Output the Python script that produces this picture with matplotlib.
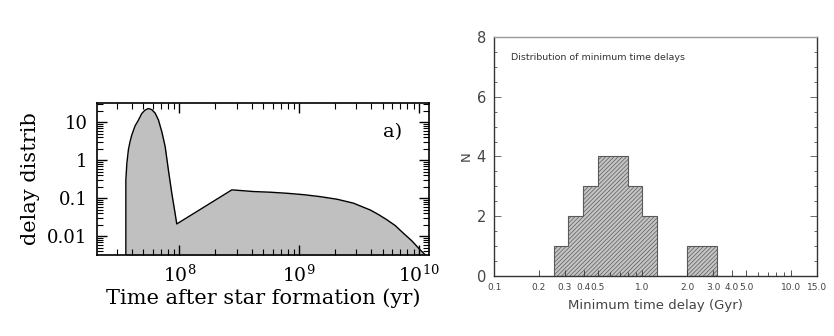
import matplotlib
matplotlib.use("Agg")
import matplotlib.pyplot as plt
from matplotlib.ticker import LogLocator, FixedLocator, NullFormatter, FixedFormatter, MultipleLocator
import numpy as np

plt.rcParams["hatch.linewidth"] = 0.5

# ---- Panel a: delay distribution (log-log) ----
delay_t = [3.57e7, 3.57e7, 3.64e7, 3.75e7, 3.87e7, 4.0e7, 4.26e7, 4.54e7, 4.85e7, 5.17e7, 5.51e7,
           5.88e7, 6.27e7, 6.68e7, 7.13e7, 7.6e7, 8.09e7, 8.65e7, 9.2e7, 9.5e7,
           2.74e8, 4.15e8, 5.73e8, 7.9e8, 1.09e9, 1.5e9, 2.07e9, 2.84e9, 3.34e9, 3.92e9,
           4.6e9, 5.4e9, 6.34e9, 7.4e9, 8.73e9, 1.02e10, 1.13e10, 1.21e10]
delay_val = [0.001, 0.3, 0.83, 1.9, 3.1, 4.6, 8.0, 11.3, 17.0, 21.0, 23.0,
             21.5, 17.4, 11.5, 5.6, 2.3, 0.55, 0.13, 0.04, 0.021,
             0.166, 0.15, 0.144, 0.135, 0.124, 0.11, 0.094, 0.074, 0.060, 0.049,
             0.037, 0.027, 0.019, 0.012, 0.0075, 0.0044, 0.0032, 0.0027]

# ---- Panel b: histogram of minimum time delays ----
bin_edges = [0.251, 0.316, 0.398, 0.501, 0.631, 0.794, 1.0, 1.259, 1.585, 1.995, 2.512, 3.162]
counts = [1, 2, 3, 4, 4, 3, 2, 0, 0, 1, 1]
xtick_vals = [0.1, 0.2, 0.3, 0.4, 0.5, 1.0, 2.0, 3.0, 4.0, 5.0, 10.0, 15.0]
xtick_labels = ["0.1", "0.2", "0.3", "0.4", "0.5", "1.0", "2.0", "3.0", "4.0", "5.0", "10.0", "15.0"]
xminor_vals = [0.6, 0.7, 0.8, 0.9, 6.0, 7.0, 8.0, 9.0]

fig = plt.figure(figsize=(8.34, 3.36), dpi=100)

# Left panel
ax1 = fig.add_axes([0.1163, 0.2411, 0.398, 0.4524])
ax1.fill_between(delay_t, delay_val, 1e-3, color="#c0c0c0", linewidth=0)
ax1.plot(delay_t, delay_val, color="black", lw=1.0)
ax1.set_xscale("log")
ax1.set_yscale("log")
ax1.set_xlim(2.05e7, 1.21e10)
ax1.set_ylim(3.2e-3, 32.2)
serif = "DejaVu Serif"
ax1.set_yticks([0.01, 0.1, 1, 10])
ax1.set_yticklabels(["0.01", "0.1", "1", "10"], family=serif, fontsize=13)
ax1.set_xticks([1e8, 1e9, 1e10])
ax1.set_xticklabels([r"$\mathregular{10^{8}}$", r"$\mathregular{10^{9}}$", r"$\mathregular{10^{10}}$"],
                    family=serif, fontsize=13.5)
ax1.xaxis.set_minor_locator(LogLocator(base=10, subs=np.arange(2, 10)))
ax1.yaxis.set_minor_locator(LogLocator(base=10, subs=np.arange(2, 10), numticks=20))
ax1.xaxis.set_minor_formatter(NullFormatter())
ax1.yaxis.set_minor_formatter(NullFormatter())
ax1.tick_params(which="both", direction="in", top=True, right=True, color="black")
ax1.tick_params(which="major", length=7, width=1.0, pad=7)
ax1.tick_params(which="minor", length=4, width=0.8)
for s in ax1.spines.values():
    s.set_linewidth(1.2)
ax1.set_xlabel("Time after star formation (yr)", family=serif, fontsize=15, labelpad=2)
ax1.set_ylabel("delay distrib", family=serif, fontsize=15, labelpad=5)
ax1.text(0.889, 0.811, "a)", transform=ax1.transAxes, family=serif, fontsize=14,
         ha="center", va="center")

# Right panel
gray = "#444444"
ax2 = fig.add_axes([0.5927, 0.1795, 0.3866, 0.7095])
ax2.stairs(counts, bin_edges, fill=True, facecolor="#c4c4c4", edgecolor="#5a5a5a",
           hatch="////////", linewidth=0.8)
ax2.set_xscale("log")
ax2.set_xlim(0.1, 15.0)
ax2.set_ylim(0, 8)
ax2.xaxis.set_major_locator(FixedLocator(xtick_vals))
ax2.xaxis.set_major_formatter(FixedFormatter(xtick_labels))
ax2.xaxis.set_minor_locator(FixedLocator(xminor_vals))
ax2.xaxis.set_minor_formatter(NullFormatter())
ax2.yaxis.set_major_locator(MultipleLocator(2))
ax2.yaxis.set_minor_locator(MultipleLocator(0.5))
ax2.tick_params(axis="x", which="both", direction="in", top=False, labelsize=6.5,
                labelcolor=gray, color="#333333", pad=5)
ax2.tick_params(axis="x", which="major", length=4, width=0.6)
ax2.tick_params(axis="x", which="minor", length=3, width=0.6)
ax2.tick_params(axis="y", which="both", direction="in", right=True, labelsize=10.5,
                labelcolor=gray, color="#555555", pad=6)
ax2.tick_params(axis="y", which="major", length=5, width=0.6)
ax2.tick_params(axis="y", which="minor", length=2.5, width=0.6)
for k, s in ax2.spines.items():
    s.set_linewidth(1.0)
    s.set_color("#333333")
ax2.spines["top"].set_color("#999999")
ax2.set_xlabel("Minimum time delay (Gyr)", fontsize=9.5, color=gray, labelpad=5)
ax2.set_ylabel("N", fontsize=9.5, color=gray, labelpad=3)
ax2.text(0.053, 0.915, "Distribution of minimum time delays", transform=ax2.transAxes,
         fontsize=6.8, color="#333333", ha="left", va="center")

fig.savefig("out.png", dpi=100)
